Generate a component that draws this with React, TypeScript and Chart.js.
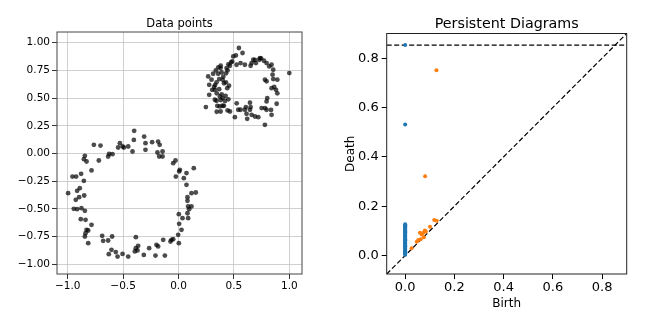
import React, { useEffect, useRef } from "react";
import { Chart, registerables } from "chart.js";

Chart.register(...registerables);

// ---- Left panel: point cloud (two noisy circles) ----
const UPPER_X = [
  0.545, 0.494, 0.518, 0.578, 0.485, 0.56, 0.524, 0.443, 0.464, 0.434, 0.38, 0.337, 0.389, 0.358, 0.313,
  0.298, 0.268, 0.367, 0.398, 0.343, 0.428, 0.322, 0.304, 0.277, 0.277, 0.328, 0.367, 0.328, 0.343, 0.373,
  0.398, 0.373, 0.398, 0.247, 0.38, 0.443, 0.464, 0.509, 0.539, 0.56, 0.614, 0.599, 0.62, 0.645, 0.66,
  0.608, 0.651, 0.69, 0.72, 0.75, 0.78, 0.795, 0.78, 0.795, 0.801, 0.84, 0.886, 0.84, 0.88, 0.864,
  0.892, 0.855, 0.849, 0.795, 0.78, 0.855, 0.84, 0.819, 0.795, 0.771, 0.735, 0.699, 0.675, 0.66, 0.651,
  0.599, 1.0, 0.729, 0.44, 0.425, 0.41, 0.35, 0.474, 0.45, 0.381, 0.359, 0.429, 0.404, 0.33, 0.411,
  0.456, 0.345, 0.39, 0.381, 0.42, 0.45, 0.345, 0.525, 0.645, 0.835, 0.892, 0.69, 0.745,
];
const UPPER_Y = [
  0.952, 0.876, 0.885, 0.907, 0.831, 0.816, 0.801, 0.75, 0.792, 0.771, 0.771, 0.75, 0.732, 0.72, 0.72,
  0.666, 0.696, 0.672, 0.666, 0.642, 0.642, 0.6, 0.575, 0.62, 0.53, 0.575, 0.581, 0.485, 0.476, 0.515,
  0.5, 0.425, 0.431, 0.419, 0.379, 0.389, 0.379, 0.328, 0.395, 0.395, 0.358, 0.395, 0.313, 0.395, 0.349,
  0.419, 0.419, 0.334, 0.328, 0.41, 0.41, 0.395, 0.259, 0.47, 0.5, 0.349, 0.449, 0.59, 0.575, 0.6,
  0.666, 0.672, 0.711, 0.651, 0.666, 0.756, 0.801, 0.786, 0.816, 0.837, 0.861, 0.816, 0.846, 0.816, 0.792,
  0.801, 0.726, 0.846, 0.59, 0.52, 0.43, 0.43, 0.823, 0.805, 0.792, 0.778, 0.724, 0.693, 0.618, 0.634,
  0.612, 0.543, 0.534, 0.483, 0.474, 0.489, 0.377, 0.453, 0.459, 0.393, 0.543, 0.844, 0.859,
];
const LOWER_X = [
  -0.4, -0.31, -0.403, -0.298, -0.184, -0.238, -0.17, -0.144, -0.19, -0.174, -0.144, -0.298, -0.415, -0.454, -0.493,
  -0.529, -0.545, -0.505, -0.596, -0.635, -0.626, -0.704, -0.764, -0.719, -0.845, -0.83, -0.854, -0.785, -0.879, -0.924,
  -0.957, -0.854, -0.891, -0.915, -0.996, -0.897, -0.927, -0.851, -0.945, -0.915, -0.876, -0.845, -0.882, -0.839, -0.785,
  -0.83, -0.815, -0.839, -0.845, -0.815, -0.689, -0.68, -0.635, -0.599, -0.605, -0.629, -0.566, -0.55, -0.505, -0.454,
  -0.394, -0.385, -0.364, -0.385, -0.37, -0.313, -0.265, -0.199, -0.184, -0.208, -0.123, -0.138, -0.072, -0.048, -0.063,
  0.003, -0.003, 0.006, 0.027, 0.003, 0.036, 0.087, 0.096, 0.087, 0.117, 0.081, 0.081, 0.117, 0.156, 0.072,
  0.048, 0.072, 0.138, -0.024, 0.012, -0.027, -0.048, 0.006, 0.081,
];
const LOWER_Y = [
  0.205, 0.153, 0.123, 0.093, 0.108, 0.102, 0.078, 0.018, 0.009, -0.027, -0.027, 0.033, 0.018, 0.063, 0.054,
  0.093, 0.054, 0.063, -0.006, -0.027, -0.003, 0.072, 0.078, -0.063, -0.021, -0.072, -0.051, -0.153, -0.183, -0.208,
  -0.208, -0.247, -0.313, -0.337, -0.358, -0.394, -0.418, -0.379, -0.499, -0.502, -0.493, -0.517, -0.593, -0.599, -0.644,
  -0.689, -0.695, -0.719, -0.749, -0.809, -0.743, -0.788, -0.785, -0.749, -0.869, -0.909, -0.89, -0.93, -0.906, -0.93,
  -0.884, -0.854, -0.833, -0.755, -0.875, -0.915, -0.854, -0.824, -0.839, -0.921, -0.921, -0.779, -0.794, -0.773, -0.779,
  -0.809, -0.734, -0.635, -0.689, -0.548, -0.584, -0.584, -0.502, -0.478, -0.478, -0.539, -0.394, -0.358, -0.352, -0.283,
  -0.223, -0.177, -0.132, -0.208, -0.147, -0.063, -0.087, -0.162, -0.427,
];
const LEFT_X_TICKS = [-1.0, -0.5, 0.0, 0.5, 1.0];
const LEFT_Y_TICKS = [-1.0, -0.75, -0.5, -0.25, 0.0, 0.25, 0.5, 0.75, 1.0];

// ---- Right panel: persistence diagram ----
const H0_DEATH = [
  0.853, 0.531, 0.127, 0.123, 0.119, 0.116, 0.112, 0.109, 0.105, 0.101, 0.098, 0.094, 0.091, 0.087, 0.084,
  0.08, 0.077, 0.073, 0.069, 0.066, 0.062, 0.059, 0.055, 0.052, 0.048, 0.045, 0.041, 0.037, 0.034, 0.03,
  0.027, 0.023, 0.02, 0.016, 0.013, 0.009, 0.006, 0.003,
];
const H1_BIRTH = [0.127, 0.081, 0.118, 0.128, 0.101, 0.08, 0.074, 0.06, 0.067, 0.053, 0.047, 0.063, 0.076, 0.026, 0.084];
const H1_DEATH = [0.751, 0.321, 0.144, 0.141, 0.117, 0.101, 0.092, 0.092, 0.085, 0.063, 0.056, 0.066, 0.074, 0.029, 0.097];
const INF_LEVEL = 0.853;
const PD_MIN = -0.075;
const PD_MAX = 0.9;
const PD_TICKS = [0.0, 0.2, 0.4, 0.6, 0.8];

const FONT = '"DejaVu Sans", "Liberation Sans", sans-serif';

const fmt = (v: number, d: number) => v.toFixed(d).replace("-", "\u2212");

function textPlugin(cfg: {
  title: string;
  titleSize: number;
  titleBaseline: number;
  frameColor: string;
  xLabel?: string;
  xLabelBaseline?: number;
  yLabel?: string;
  yLabelX?: number;
  labelSize?: number;
}) {
  return {
    id: "textFrame",
    afterDraw(chart: any) {
      const { ctx, chartArea: a } = chart;
      ctx.save();
      ctx.strokeStyle = cfg.frameColor;
      ctx.lineWidth = 1;
      ctx.strokeRect(a.left, a.top, a.right - a.left, a.bottom - a.top);
      const cx = (a.left + a.right) / 2;
      ctx.fillStyle = "#000";
      ctx.textAlign = "center";
      ctx.textBaseline = "alphabetic";
      ctx.font = `${cfg.titleSize}px ${FONT}`;
      ctx.fillText(cfg.title, cx, cfg.titleBaseline);
      if (cfg.xLabel) {
        ctx.font = `${cfg.labelSize}px ${FONT}`;
        ctx.fillText(cfg.xLabel, cx, cfg.xLabelBaseline);
      }
      if (cfg.yLabel) {
        ctx.font = `${cfg.labelSize}px ${FONT}`;
        ctx.translate(cfg.yLabelX, (a.top + a.bottom) / 2);
        ctx.rotate(-Math.PI / 2);
        ctx.fillText(cfg.yLabel, 0, 0);
      }
      ctx.restore();
    },
  };
}

export default function App() {
  const leftRef = useRef<HTMLCanvasElement>(null);
  const rightRef = useRef<HTMLCanvasElement>(null);

  useEffect(() => {
    const cloud = [
      ...UPPER_X.map((x, i) => ({ x, y: UPPER_Y[i] })),
      ...LOWER_X.map((x, i) => ({ x, y: LOWER_Y[i] })),
    ];
    const leftTickFont = { family: FONT, size: 10.5 };
    const left = new Chart(leftRef.current!, {
      type: "scatter",
      data: {
        datasets: [
          {
            data: cloud,
            pointRadius: 2.4,
            pointHoverRadius: 2.4,
            backgroundColor: "rgba(0,0,0,0.7)",
            borderWidth: 0,
          },
        ],
      },
      options: {
        animation: false,
        responsive: false,
        events: [],
        layout: { padding: { top: 32, right: 18, bottom: 0, left: 0 } },
        plugins: { legend: { display: false }, tooltip: { enabled: false }, title: { display: false } },
        scales: {
          x: {
            type: "linear",
            min: -1.0966,
            max: 1.1146,
            afterFit: (s: any) => {
              s.height = 51;
            },
            afterBuildTicks: (s: any) => {
              s.ticks = LEFT_X_TICKS.map((v) => ({ value: v }));
            },
            grid: { color: "#c4c4c4", lineWidth: 0.8, tickColor: "#000", tickLength: 5, tickWidth: 0.8 },
            border: { display: false },
            ticks: {
              color: "#000",
              font: leftTickFont,
              padding: 1,
              autoSkip: false,
              maxRotation: 0,
              callback: (v: any) => fmt(Number(v), 1),
            },
          },
          y: {
            type: "linear",
            min: -1.0875,
            max: 1.0966,
            afterFit: (s: any) => {
              s.width = 57;
            },
            afterBuildTicks: (s: any) => {
              s.ticks = LEFT_Y_TICKS.map((v) => ({ value: v }));
            },
            grid: { color: "#c4c4c4", lineWidth: 0.8, tickColor: "#000", tickLength: 5, tickWidth: 0.8 },
            border: { display: false },
            ticks: {
              color: "#000",
              font: leftTickFont,
              padding: 2,
              autoSkip: false,
              callback: (v: any) => fmt(Number(v), 2),
            },
          },
        },
      },
      plugins: [
        textPlugin({ title: "Data points", titleSize: 11.5, titleBaseline: 27.3, frameColor: "#444" }),
      ],
    } as any);

    const rightTickFont = { family: FONT, size: 13 };
    const right = new Chart(rightRef.current!, {
      type: "scatter",
      data: {
        datasets: [
          {
            data: H1_BIRTH.map((b, i) => ({ x: b, y: H1_DEATH[i] })),
            pointRadius: 2,
            pointHoverRadius: 2,
            backgroundColor: "#ff7f0e",
            borderWidth: 0,
            order: 1,
          },
          {
            data: H0_DEATH.map((d) => ({ x: 0, y: d })),
            pointRadius: 2,
            pointHoverRadius: 2,
            backgroundColor: "#1f77b4",
            borderWidth: 0,
            order: 2,
          },
          {
            data: [
              { x: PD_MIN, y: PD_MIN },
              { x: PD_MAX, y: PD_MAX },
            ],
            showLine: true,
            pointRadius: 0,
            borderColor: "#000",
            borderWidth: 1.2,
            borderDash: [5, 2.5],
            order: 3,
          },
          {
            data: [
              { x: PD_MIN, y: INF_LEVEL },
              { x: PD_MAX, y: INF_LEVEL },
            ],
            showLine: true,
            pointRadius: 0,
            borderColor: "#000",
            borderWidth: 1.2,
            borderDash: [5, 2.5],
            order: 3,
          },
        ],
      },
      options: {
        animation: false,
        responsive: false,
        events: [],
        layout: { padding: { top: 33.5, right: 22.3, bottom: 0, left: 0 } },
        plugins: { legend: { display: false }, tooltip: { enabled: false }, title: { display: false } },
        scales: {
          x: {
            type: "linear",
            min: PD_MIN,
            max: PD_MAX,
            afterFit: (s: any) => {
              s.height = 51;
            },
            afterBuildTicks: (s: any) => {
              s.ticks = PD_TICKS.map((v) => ({ value: v }));
            },
            grid: { drawOnChartArea: false, tickColor: "#000", tickLength: 5, tickWidth: 1 },
            border: { display: false },
            ticks: {
              color: "#000",
              font: rightTickFont,
              padding: 1,
              autoSkip: false,
              maxRotation: 0,
              callback: (v: any) => fmt(Number(v), 1),
            },
          },
          y: {
            type: "linear",
            min: PD_MIN,
            max: PD_MAX,
            afterFit: (s: any) => {
              s.width = 66.7;
            },
            afterBuildTicks: (s: any) => {
              s.ticks = PD_TICKS.map((v) => ({ value: v }));
            },
            grid: { drawOnChartArea: false, tickColor: "#000", tickLength: 5, tickWidth: 1 },
            border: { display: false },
            ticks: {
              color: "#000",
              font: rightTickFont,
              padding: 3,
              autoSkip: false,
              callback: (v: any) => fmt(Number(v), 1),
            },
          },
        },
      },
      plugins: [
        textPlugin({
          title: "Persistent Diagrams",
          titleSize: 14.3,
          titleBaseline: 28.3,
          frameColor: "#222",
          xLabel: "Birth",
          xLabelBaseline: 307.3,
          yLabel: "Death",
          yLabelX: 34.3,
          labelSize: 12,
        }),
      ],
    } as any);

    return () => {
      left.destroy();
      right.destroy();
    };
  }, []);

  return (
    <div style={{ position: "fixed", left: 0, top: 0, width: 649, height: 325, background: "#fff" }}>
      <canvas ref={leftRef} width={320} height={325} style={{ position: "absolute", left: 0, top: 0 }} />
      <canvas ref={rightRef} width={329} height={325} style={{ position: "absolute", left: 320, top: 0 }} />
    </div>
  );
}
